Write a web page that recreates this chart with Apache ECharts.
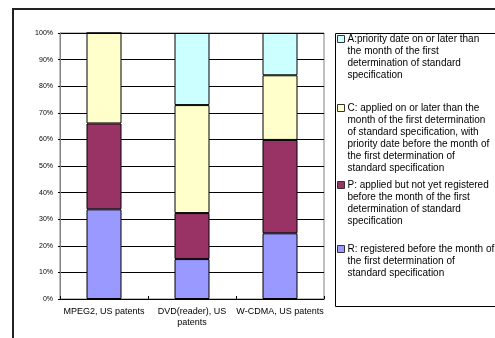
<!DOCTYPE html>
<html><head><meta charset="utf-8">
<script src="https://cdn.jsdelivr.net/npm/echarts@6/dist/echarts.min.js"></script>
<style>html,body{margin:0;padding:0;background:#fff}#c{width:495px;height:338px}</style>
</head><body><div id="c"></div>
<script>
var categories = ['MPEG2, US patents', 'DVD(reader), US\npatents', 'W-CDMA, US patents'];
var seriesNames = ['R', 'P', 'C', 'A'];
var valuesR = [33.7, 15.0, 24.7];
var valuesP = [32.3, 17.3, 35.1];
var valuesC = [34.0, 40.6, 24.3];
var valuesA = [0, 27.1, 15.9];
var yTicks = [0, 10, 20, 30, 40, 50, 60, 70, 80, 90, 100];
var legendLabels = {
  A: ['A:priority date on or later than', 'the month of the first', 'determination of standard', 'specification'],
  C: ['C: applied on or later than the', 'month of the first determination', 'of standard specification, with', 'priority date before the month of', 'the first determination of', 'standard specification'],
  P: ['P: applied but not yet registered', 'before the month of the first', 'determination of standard', 'specification'],
  R: ['R: registered before the month of', 'the first determination of', 'standard specification']
};
var colors = {R: '#9999FF', P: '#993366', C: '#FFFFCC', A: '#CCFFFF'};
var legendOrder = ['A', 'C', 'P', 'R'];
var legendFirstLineY = [39, 108, 185, 249];

var LH = 12;
var FONT = 'Liberation Sans, Arial, sans-serif';
var valueMap = {R: valuesR, P: valuesP, C: valuesC, A: valuesA};

var chart = echarts.init(document.getElementById('c'));
var series = seriesNames.map(function (n) {
  return {
    name: n, type: 'bar', stack: 'total', barWidth: 35,
    data: valueMap[n],
    itemStyle: {color: colors[n], borderColor: '#000', borderWidth: 1},
    emphasis: {disabled: true}
  };
});
var legends = legendOrder.map(function (n, i) {
  var lines = legendLabels[n];
  var pad = [];
  for (var k = 0; k < lines.length - 1; k++) pad.push(' ');
  var txt = pad.concat(lines).join('\n');
  return {
    left: 337, top: legendFirstLineY[i] - (lines.length - 1) * LH - LH / 2,
    padding: 0, orient: 'vertical', icon: 'rect',
    itemWidth: 7, itemHeight: 7, selectedMode: false,
    itemStyle: {borderColor: '#333', borderWidth: 1},
    data: [n],
    formatter: function () { return txt; },
    textStyle: {fontSize: 10, fontFamily: FONT, color: '#000', lineHeight: LH,
      padding: [0, 0, 0, -2]}
  };
});
chart.setOption({
  animation: false,
  backgroundColor: '#fff',
  grid: {left: 60, right: 171, top: 33, bottom: 39, show: true, borderColor: '#808080', borderWidth: 1},
  legend: legends,
  xAxis: {
    type: 'category', data: categories,
    axisLine: {lineStyle: {color: '#000', width: 1}},
    axisTick: {show: true, inside: true, length: 3, lineStyle: {color: '#000'}},
    axisLabel: {fontSize: 9, fontFamily: FONT, color: '#000', margin: 7, lineHeight: 11, interval: 0}
  },
  yAxis: {
    type: 'value', min: 0, max: 100, interval: 10,
    axisLine: {show: true, lineStyle: {color: '#808080'}},
    axisTick: {show: true, length: 2, lineStyle: {color: '#000'}},
    axisLabel: {fontSize: 7, fontFamily: FONT, color: '#000', margin: 7,
      formatter: function (v) { return yTicks.indexOf(v) >= 0 ? v + '%' : ''; }},
    splitLine: {lineStyle: {color: '#000', width: 1}}
  },
  graphic: [
    {type: 'rect', silent: true, z: 100, shape: {x: 13, y: 9, width: 520, height: 360},
      style: {fill: 'none', stroke: '#222', lineWidth: 2}},
    {type: 'rect', silent: true, z: 100, shape: {x: 335.5, y: 33.5, width: 200, height: 273},
      style: {fill: 'none', stroke: '#000', lineWidth: 1}}
  ],
  series: series
});
</script></body></html>
